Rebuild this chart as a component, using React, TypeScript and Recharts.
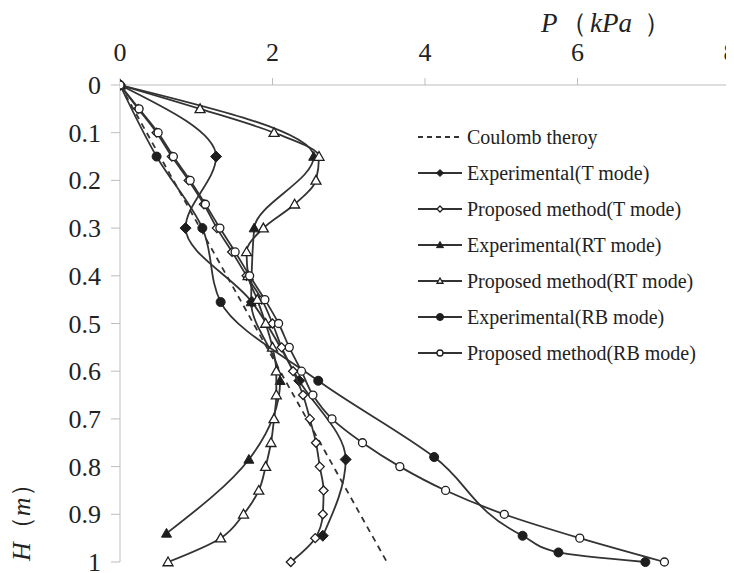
import React from "react";
import { ScatterChart, Scatter, XAxis, YAxis, Customized } from "recharts";

// heights (m) of the computed points, every 0.05 m
const hProposed = [0, 0.05, 0.1, 0.15, 0.2, 0.25, 0.3, 0.35, 0.4, 0.45, 0.5, 0.55, 0.6, 0.65, 0.7, 0.75, 0.8, 0.85, 0.9, 0.95, 1];
const pProposedT = [0, 0.24, 0.48, 0.68, 0.9, 1.1, 1.27, 1.47, 1.66, 1.86, 2.0, 2.12, 2.27, 2.4, 2.49, 2.57, 2.62, 2.67, 2.66, 2.56, 2.24];
const pProposedRT = [0, 1.05, 2.02, 2.61, 2.57, 2.29, 1.88, 1.66, 1.68, 1.8, 1.91, 2.0, 2.05, 2.05, 2.02, 1.98, 1.91, 1.82, 1.62, 1.32, 0.63];
const pProposedRB = [0, 0.25, 0.5, 0.7, 0.92, 1.12, 1.31, 1.51, 1.7, 1.9, 2.08, 2.22, 2.38, 2.53, 2.78, 3.18, 3.67, 4.27, 5.04, 6.03, 7.14];

// measured points
const hExpT = [0, 0.15, 0.3, 0.455, 0.62, 0.785, 0.945];
const pExpT = [0, 1.26, 0.86, 1.73, 2.35, 2.96, 2.66];
const hExpRT = [0, 0.15, 0.3, 0.455, 0.62, 0.785, 0.94];
const pExpRT = [0, 2.54, 1.76, 1.72, 2.1, 1.69, 0.61];
const hExpRB = [0, 0.15, 0.3, 0.455, 0.62, 0.78, 0.945, 0.98, 1];
const pExpRB = [0, 0.48, 1.08, 1.32, 2.6, 4.12, 5.28, 5.75, 6.89];

const hCoulomb = [0, 1];
const pCoulomb = [0, 3.5];

const xTicks = [0, 2, 4, 6, 8];
const yTicks = [0, 0.1, 0.2, 0.3, 0.4, 0.5, 0.6, 0.7, 0.8, 0.9, 1];

const INK = "#1e1e1e";
const LINE = "#333";
const AXIS = "#bdbdbd";
const FONT = "'Liberation Serif', 'Times New Roman', serif";

type Kind = "diamond" | "triangle" | "circle" | "none";

const zip = (h: number[], p: number[]) => h.map((v, i) => ({ h: v, p: p[i] }));

function Mark({ cx, cy, kind, filled, r }: { cx: number; cy: number; kind: Kind; filled: boolean; r: number }) {
  const fill = filled ? INK : "#fff";
  const sw = filled ? 1 : 1.3;
  if (kind === "none" || cx == null || cy == null) return <g />;
  if (kind === "diamond")
    return (
      <polygon
        points={`${cx},${cy - r} ${cx + r},${cy} ${cx},${cy + r} ${cx - r},${cy}`}
        fill={fill}
        stroke={INK}
        strokeWidth={sw}
      />
    );
  if (kind === "triangle")
    return (
      <polygon
        points={`${cx},${cy - r} ${cx + r},${cy + r * 0.75} ${cx - r},${cy + r * 0.75}`}
        fill={fill}
        stroke={INK}
        strokeWidth={sw}
      />
    );
  return <circle cx={cx} cy={cy} r={r} fill={fill} stroke={INK} strokeWidth={sw} />;
}

const series = [
  { name: "Experimental(T mode)", data: zip(hExpT, pExpT), kind: "diamond" as Kind, filled: true, r: 5.5 },
  { name: "Proposed method(T mode)", data: zip(hProposed, pProposedT), kind: "diamond" as Kind, filled: false, r: 4.5 },
  { name: "Experimental(RT mode)", data: zip(hExpRT, pExpRT), kind: "triangle" as Kind, filled: true, r: 5 },
  { name: "Proposed method(RT mode)", data: zip(hProposed, pProposedRT), kind: "triangle" as Kind, filled: false, r: 5 },
  { name: "Experimental(RB mode)", data: zip(hExpRB, pExpRB), kind: "circle" as Kind, filled: true, r: 4.5 },
  { name: "Proposed method(RB mode)", data: zip(hProposed, pProposedRB), kind: "circle" as Kind, filled: false, r: 4 },
];

function LegendBox() {
  const rows = [{ name: "Coulomb theroy", kind: "none" as Kind, filled: false, dashed: true }, ...series.map((s) => ({ ...s, dashed: false }))];
  return (
    <div style={{ position: "absolute", top: 111, left: 410, fontFamily: FONT, fontSize: 20, color: "#222" }}>
      {rows.map((row) => (
        <div key={row.name} style={{ display: "flex", alignItems: "center", height: 36 }}>
          <svg width={48} height={12} style={{ marginRight: 1 }}>
            <line x1={0} x2={44} y1={6} y2={6} stroke={LINE} strokeWidth={1.8} strokeDasharray={row.dashed ? "5 4" : undefined} />
            {!row.dashed ? <Mark cx={22} cy={6} kind={row.kind} filled={row.filled} r={row.filled ? 3.5 : 3} /> : null}
          </svg>
          <span style={{ whiteSpace: "nowrap" }}>{row.name}</span>
        </div>
      ))}
    </div>
  );
}

function XTick({ x, y, payload }: any) {
  return (
    <text x={x} y={y} textAnchor="middle" fontFamily={FONT} fontSize={26} fill="#222">
      {payload.value}
    </text>
  );
}

function YTick({ x, y, payload }: any) {
  return (
    <text x={x} y={y} dy={9} textAnchor="end" fontFamily={FONT} fontSize={26} fill="#222">
      {String(Number(Number(payload.value).toFixed(1)))}
    </text>
  );
}

function Titles() {
  return (
    <g fontFamily={FONT} fill="#222" fontSize={27}>
      <text y={24}>
        <tspan x={533} fontStyle="italic">P</tspan>
        <tspan x={552}>（</tspan>
        <tspan x={582} fontStyle="italic">kPa</tspan>
        <tspan x={636}>）</tspan>
      </text>
      <text transform="translate(22,553) rotate(-90)" fontSize={26}>
        <tspan fontStyle="italic">H</tspan>
        <tspan>（</tspan>
        <tspan fontStyle="italic">m</tspan>
        <tspan>）</tspan>
      </text>
    </g>
  );
}

export default function App() {
  return (
    <div style={{ position: "relative", width: 726, height: 565 }}>
      <ScatterChart width={726} height={565} margin={{ top: 37, right: 4, bottom: 11, left: 52 }}>
        <XAxis
          type="number"
          dataKey="p"
          orientation="top"
          domain={[0, 8]}
          ticks={xTicks}
          height={40}
          tickSize={7}
          tickMargin={17}
          stroke={AXIS}
          tick={<XTick />}
          allowDataOverflow
        />
        <YAxis
          type="number"
          dataKey="h"
          domain={[0, 1]}
          reversed
          ticks={yTicks}
          width={60}
          tickSize={9}
          tickMargin={10}
          stroke={AXIS}
          tick={<YTick />}
        />
        <Scatter
          name="Coulomb theroy"
          data={zip(hCoulomb, pCoulomb)}
          line={{ stroke: LINE, strokeWidth: 1.8, strokeDasharray: "6 5" }}
          lineJointType="linear"
          shape={() => <g />}
          isAnimationActive={false}
        />
        {series.map((s) => (
          <Scatter
            key={s.name}
            name={s.name}
            data={s.data}
            line={{ stroke: LINE, strokeWidth: 1.8 }}
            lineJointType="monotoneY"
            shape={(props: any) => <Mark cx={props.cx} cy={props.cy} kind={s.kind} filled={s.filled} r={s.r} />}
            isAnimationActive={false}
          />
        ))}
        <Customized component={Titles} />
      </ScatterChart>
      <LegendBox />
    </div>
  );
}
